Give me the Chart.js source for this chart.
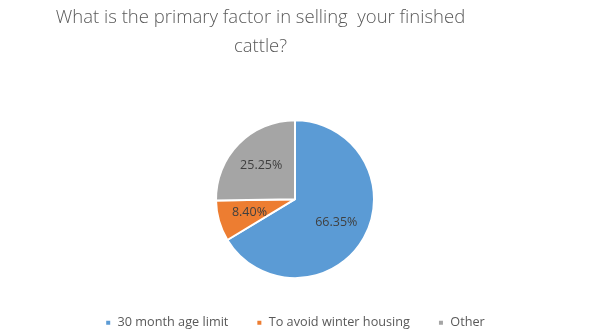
<!DOCTYPE html>
<html>
<head>
<meta charset="utf-8">
<script src="https://cdn.jsdelivr.net/npm/chart.js@4.4.0/dist/chart.umd.min.js"></script>
<style>
  html, body { margin: 0; padding: 0; background: #ffffff; }
  #wrap { width: 594px; height: 332px; position: relative; }
</style>
</head>
<body>
<div id="wrap"><canvas id="c" width="594" height="332"></canvas></div>
<script>
const titleLines = ["What is the primary factor in selling  your finished", "cattle?"];
const categories = ["30 month age limit", "To avoid winter housing", "Other"];
const values = [66.35, 8.40, 25.25];
const valueLabels = ["66.35%", "8.40%", "25.25%"];
const colors = ["#5B9BD5", "#ED7D31", "#A5A5A5"];

const titlePlugin = {
  id: 'offsetTitle',
  afterDraw(chart) {
    const ctx = chart.ctx;
    ctx.save();
    ctx.font = '300 18.5px "Open Sans", sans-serif';
    ctx.fillStyle = '#595959';
    ctx.textAlign = 'center';
    ctx.textBaseline = 'alphabetic';
    ctx.fillText(titleLines[0], 260.5, 23);
    ctx.fillText(titleLines[1], 260.5, 52);
    ctx.restore();
  }
};

const labelPlugin = {
  id: 'sliceLabels',
  afterDatasetsDraw(chart) {
    const ctx = chart.ctx;
    const meta = chart.getDatasetMeta(0);
    ctx.save();
    ctx.font = '12.5px "Open Sans", sans-serif';
    ctx.fillStyle = '#404040';
    ctx.textAlign = 'center';
    ctx.textBaseline = 'middle';
    meta.data.forEach((arc, i) => {
      const p = arc.getProps(['x', 'y', 'startAngle', 'endAngle', 'outerRadius'], true);
      const mid = (p.startAngle + p.endAngle) / 2;
      const r = p.outerRadius * 0.6;
      ctx.fillText(valueLabels[i], p.x + Math.cos(mid) * r, p.y + Math.sin(mid) * r);
    });
    ctx.restore();
  }
};

new Chart(document.getElementById('c'), {
  type: 'pie',
  data: {
    labels: categories,
    datasets: [{
      data: values,
      backgroundColor: colors,
      borderColor: '#ffffff',
      borderWidth: 2,
      radius: 79
    }]
  },
  options: {
    responsive: false,
    animation: false,
    layout: { padding: { top: 110, bottom: -7, left: 0, right: 4 } },
    plugins: {
      tooltip: { enabled: false },
      title: { display: false },
      legend: {
        display: true,
        position: 'bottom',
        labels: {
          color: '#595959',
          font: { family: '"Open Sans", sans-serif', size: 12.7 },
          boxWidth: 6,
          boxHeight: 6,
          padding: 28
        }
      }
    }
  },
  plugins: [labelPlugin, titlePlugin]
});
</script>
</body>
</html>
